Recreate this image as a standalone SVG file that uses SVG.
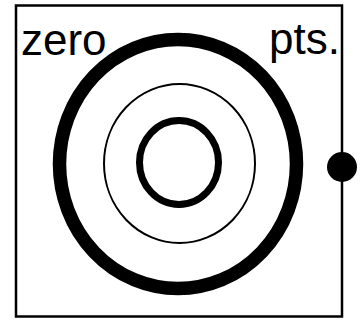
<svg xmlns="http://www.w3.org/2000/svg" width="361" height="321" viewBox="0 0 361 321">
<style>
.ring{fill:none;stroke:#000}
.lbl{font-family:"Liberation Sans",Arial,sans-serif;font-size:44px;fill:#000}
</style>
<rect width="361" height="321" fill="#fff"/>
<g id="frame"><rect x="16" y="5.5" width="326" height="311" fill="none" stroke="#000" stroke-width="2.5"/></g>
<g id="outer-ring"><ellipse class="ring" cx="178" cy="164" rx="118.5" ry="124.5" stroke-width="13.5"/></g>
<g id="middle-ring"><ellipse class="ring" cx="179.5" cy="163.5" rx="75.5" ry="79.5" stroke-width="2"/></g>
<g id="inner-ring"><ellipse class="ring" cx="179" cy="162.5" rx="39.5" ry="42" stroke-width="7"/></g>
<g id="dot"><circle cx="342" cy="167" r="15" fill="#000"/></g>
<g id="label-zero"><text class="lbl" x="21" y="55">zero</text></g>
<g id="label-pts"><text class="lbl" x="269" y="54">pts.</text></g>
</svg>
